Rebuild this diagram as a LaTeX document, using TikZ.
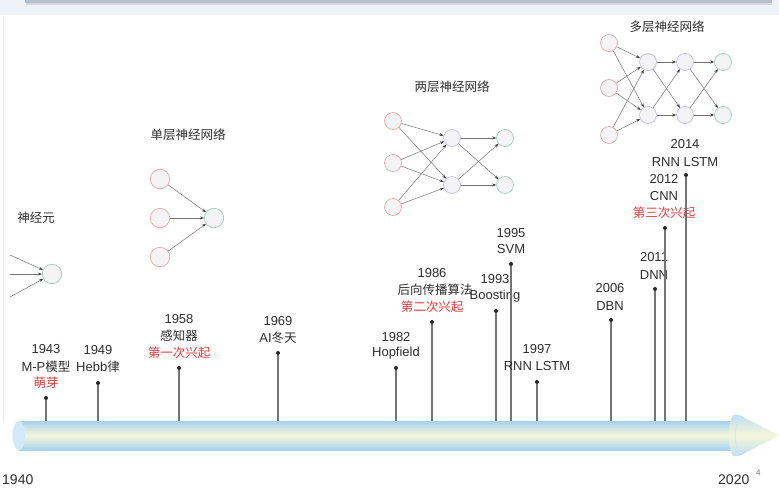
\documentclass[tikz,border=0pt]{standalone}
\usepackage{fontspec}
\setmainfont{Liberation Sans}
\newfontfamily\cjk{Noto Sans CJK SC}
\usetikzlibrary{arrows.meta}
\definecolor{inred}{HTML}{E4A0A0}
\definecolor{hidlav}{HTML}{B8B8D6}
\definecolor{outgrn}{HTML}{94CBB0}
\definecolor{nfill}{HTML}{F4F4F6}
\definecolor{txt}{HTML}{2E2E2E}
\definecolor{hot}{HTML}{E8383D}
\definecolor{stemc}{HTML}{747474}
\definecolor{tubeblue}{HTML}{A4D2EE}
\definecolor{tubemid}{HTML}{F6F6DA}
\definecolor{headbg}{HTML}{EEF3F9}
\definecolor{headln}{HTML}{B8BFCC}
\tikzset{
  lbl/.style={text=txt, inner sep=0pt, font=\fontsize{13}{15}\selectfont},
  hotlbl/.style={text=hot, inner sep=0pt, font=\fontsize{12.5}{14}\selectfont\cjk},
  ttl/.style={text=txt, inner sep=0pt, font=\fontsize{12.5}{14}\selectfont\cjk},
  neuron/.style={circle, minimum size=17pt, inner sep=0pt, line width=0.6pt, fill=nfill},
  nin/.style={neuron, draw=inred},
  nhid/.style={neuron, draw=hidlav},
  nout/.style={neuron, draw=outgrn},
  big/.style={minimum size=19.5pt},
  conn/.style={draw=black!55, line width=0.5pt, -{Stealth[length=4pt,width=3pt,black!75]}},
  stemline/.style={draw=stemc, line width=1.2pt},
  dotnode/.style={circle, fill=black!85, inner sep=0pt, minimum size=4pt},
}
\begin{document}
\begin{tikzpicture}[x=1pt,y=-1pt]
\useasboundingbox (0,0) rectangle (779,490);
\fill[white] (0,0) rectangle (779,490);
% header
\fill[headbg] (0,0) rectangle (779,15);
\draw[headln!60, line width=2pt] (26,3.5) -- (772,3.5);
\draw[headln, line width=2.2pt] (25,1.5) -- (772,1.5);
\draw[black!8, line width=0.8pt] (3,16) -- (3,420);

% ---------- timeline tube ----------
\shade[top color=tubeblue, bottom color=tubeblue, middle color=tubemid] (19,421) rectangle (740,450);
\shade[top color=tubeblue!75, bottom color=tubeblue!75, middle color=tubemid]
  (733,415) .. controls (738,414) and (742,416) .. (745,418) -- (779,435.5) -- (745,453)
  .. controls (742,455) and (738,457) .. (733,456) .. controls (727,446) and (727,425) .. (733,415);
\draw[tubeblue!55!white, line width=1pt] (741,417) .. controls (733,425) and (733,446) .. (741,454);
\fill[tubeblue!50] (19,435.5) ellipse [x radius=6.5, y radius=14.5];

\node[lbl, anchor=base west] (y1940) at (2,484) {\fontsize{14}{16}\selectfont 1940};
\node[lbl, anchor=base west] (y2020) at (718,484) {\fontsize{14}{16}\selectfont 2020};
\node[lbl, anchor=base west, text=black!55] (pg) at (756,475) {\fontsize{8}{9}\selectfont 4};

% ---------- events ----------
% 1943
\coordinate (b1943) at (46,421); \node[dotnode] (d1943) at (46,398) {};
\draw[stemline] (b1943) -- (d1943);
\node[lbl] (t1943a) at (46,349) {1943};
\node[lbl] (t1943b) at (46,367) {M-P{\cjk\fontsize{12.5}{14}\selectfont 模型}};
\node[hotlbl] (t1943c) at (46,383) {萌芽};
% 1949
\coordinate (b1949) at (98,421); \node[dotnode] (d1949) at (98,383) {};
\draw[stemline] (b1949) -- (d1949);
\node[lbl] (t1949a) at (98,350) {1949};
\node[lbl] (t1949b) at (98,367) {Hebb{\cjk\fontsize{12.5}{14}\selectfont 律}};
% 1958
\coordinate (b1958) at (179,421); \node[dotnode] (d1958) at (179,368) {};
\draw[stemline] (b1958) -- (d1958);
\node[lbl] (t1958a) at (179,319) {1958};
\node[lbl] (t1958b) at (179,336) {\cjk\fontsize{12.5}{14}\selectfont 感知器};
\node[hotlbl] (t1958c) at (179,353) {第一次兴起};
% 1969
\coordinate (b1969) at (278,421); \node[dotnode] (d1969) at (278,353) {};
\draw[stemline] (b1969) -- (d1969);
\node[lbl] (t1969a) at (278,321) {1969};
\node[lbl] (t1969b) at (278,338) {AI{\cjk\fontsize{12.5}{14}\selectfont 冬天}};
% 1982
\coordinate (b1982) at (396,421); \node[dotnode] (d1982) at (396,368) {};
\draw[stemline] (b1982) -- (d1982);
\node[lbl] (t1982a) at (396,337) {1982};
\node[lbl] (t1982b) at (396,353) {Hopfield};
% 1986
\coordinate (b1986) at (432,421); \node[dotnode] (d1986) at (432,322) {};
\draw[stemline] (b1986) -- (d1986);
\node[lbl] (t1986a) at (432,273) {1986};
\node[lbl] (t1986b) at (435,290) {\cjk\fontsize{12.5}{14}\selectfont 后向传播算法};
\node[hotlbl] (t1986c) at (432,307) {第二次兴起};
% 1993
\coordinate (b1993) at (496,421); \node[dotnode] (d1993) at (496,311) {};
\draw[stemline] (b1993) -- (d1993);
\node[lbl] (t1993a) at (495,279) {1993};
\node[lbl] (t1993b) at (495,296) {Boosting};
% 1995
\coordinate (b1995) at (511,421); \node[dotnode] (d1995) at (511,264) {};
\draw[stemline] (b1995) -- (d1995);
\node[lbl] (t1995a) at (511,233) {1995};
\node[lbl] (t1995b) at (511,249) {SVM};
% 1997
\coordinate (b1997) at (537,421); \node[dotnode] (d1997) at (537,382) {};
\draw[stemline] (b1997) -- (d1997);
\node[lbl] (t1997a) at (537,349) {1997};
\node[lbl] (t1997b) at (537,366) {RNN LSTM};
% 2006
\coordinate (b2006) at (611,421); \node[dotnode] (d2006) at (611,320) {};
\draw[stemline] (b2006) -- (d2006);
\node[lbl] (t2006a) at (610,288) {2006};
\node[lbl] (t2006b) at (610,306) {DBN};
% 2011
\coordinate (b2011) at (655,421); \node[dotnode] (d2011) at (655,289) {};
\draw[stemline] (b2011) -- (d2011);
\node[lbl] (t2011a) at (654,257) {2011};
\node[lbl] (t2011b) at (654,275) {DNN};
% 2012
\coordinate (b2012) at (665,421); \node[dotnode] (d2012) at (665,228) {};
\draw[stemline] (b2012) -- (d2012);
\node[lbl] (t2012a) at (664,179) {2012};
\node[lbl] (t2012b) at (664,196) {CNN};
\node[hotlbl] (t2012c) at (664,213) {第三次兴起};
% 2014
\coordinate (b2014) at (686,421); \node[dotnode] (d2014) at (686,175) {};
\draw[stemline] (b2014) -- (d2014);
\node[lbl] (t2014a) at (685,144) {2014};
\node[lbl] (t2014b) at (685,162) {RNN LSTM};

% ---------- neuron ----------
\node[ttl] (tNeu) at (36,218) {神经元};
\node[nout, big] (n0) at (52,274) {};
\coordinate (ni1) at (10,255);
\coordinate (ni2) at (10,274);
\coordinate (ni3) at (10,297);
\foreach \i in {1,2,3} \draw[conn] (ni\i) -- (n0);

% ---------- single layer ----------
\node[ttl] (tSL) at (188,135) {单层神经网络};
\node[nin, big] (s1) at (160,179) {};
\node[nin, big] (s2) at (160,218) {};
\node[nin, big] (s3) at (160,257) {};
\node[nout, big] (so) at (214,218) {};
\foreach \i in {1,2,3} \draw[conn] (s\i) -- (so);

% ---------- two layer ----------
\node[ttl] (tTL) at (452,87) {两层神经网络};
\node[nin] (ta1) at (393,121) {};
\node[nin] (ta2) at (393,163) {};
\node[nin] (ta3) at (393,207) {};
\node[nhid] (tb1) at (452,138) {};
\node[nhid] (tb2) at (452,185) {};
\node[nout] (tc1) at (505,138) {};
\node[nout] (tc2) at (505,185) {};
\foreach \i in {1,2,3} \foreach \j in {1,2} \draw[conn] (ta\i) -- (tb\j);
\foreach \i in {1,2} \foreach \j in {1,2} \draw[conn] (tb\i) -- (tc\j);

% ---------- multi layer ----------
\node[ttl] (tML) at (667,27) {多层神经网络};
\node[nin] (ma1) at (609,43) {};
\node[nin] (ma2) at (609,88) {};
\node[nin] (ma3) at (609,135) {};
\node[nhid] (mb1) at (648,62) {};
\node[nhid] (mb2) at (648,115) {};
\node[nhid] (mc1) at (685,62) {};
\node[nhid] (mc2) at (685,115) {};
\node[nout] (md1) at (723,62) {};
\node[nout] (md2) at (723,115) {};
\foreach \i in {1,2,3} \foreach \j in {1,2} \draw[conn] (ma\i) -- (mb\j);
\foreach \i in {1,2} \foreach \j in {1,2} \draw[conn] (mb\i) -- (mc\j);
\foreach \i in {1,2} \foreach \j in {1,2} \draw[conn] (mc\i) -- (md\j);
\end{tikzpicture}
\end{document}
